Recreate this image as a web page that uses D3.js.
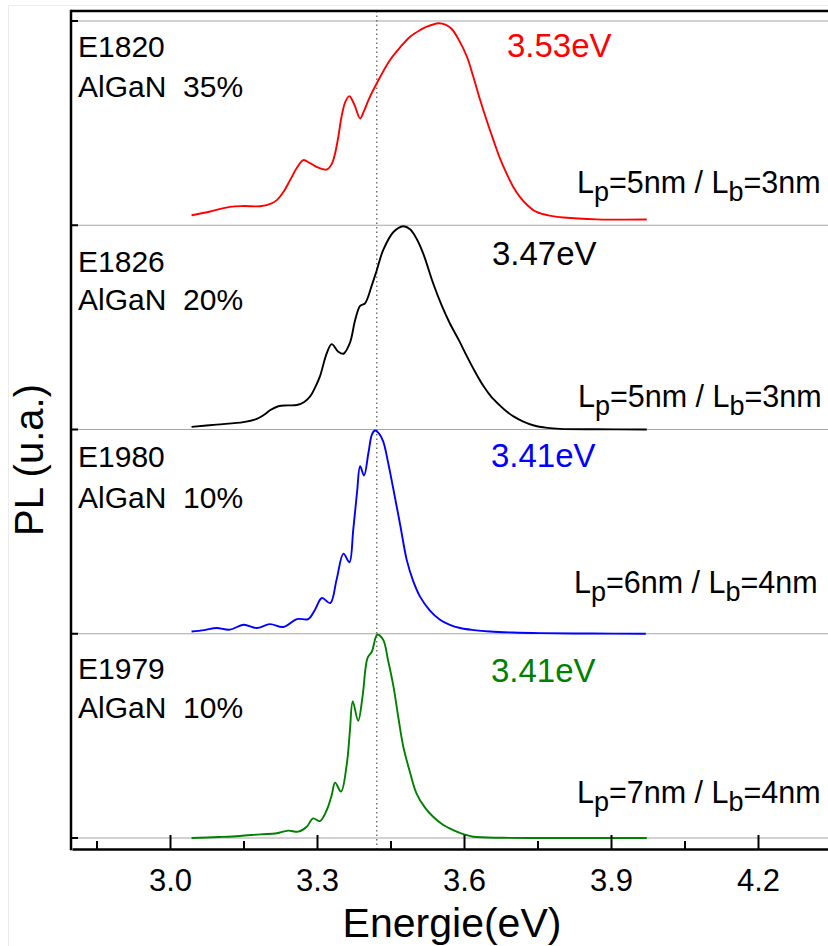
<!DOCTYPE html>
<html>
<head>
<meta charset="utf-8">
<script src="https://cdn.jsdelivr.net/npm/d3@7"></script>
<style>
  html, body { margin: 0; padding: 0; background: #fff; }
  svg { display: block; font-family: "Liberation Sans", Arial, sans-serif; }
</style>
</head>
<body>
<svg id="chart" width="828" height="946"></svg>
<script>
// ---------------- DATA ----------------
const sampleNames = ["E1820", "E1826", "E1980", "E1979"];
const alloyLabels = ["AlGaN  35%", "AlGaN  20%", "AlGaN  10%", "AlGaN  10%"];
const peakLabels = ["3.53eV", "3.47eV", "3.41eV", "3.41eV"];
const wellP = ["5nm", "5nm", "6nm", "7nm"];
const wellB = ["3nm", "3nm", "4nm", "4nm"];
const seriesColors = ["#ff0000", "#000000", "#0000ff", "#008000"];
const majorTicks = [3.0, 3.3, 3.6, 3.9, 4.2];
const minorTicks = [2.85, 3.15, 3.45, 3.75, 4.05, 4.35];
const refEnergy = 3.422;

// [energy eV, normalized PL]
const e1820 = [[3.044,0.049],[3.08,0.066],[3.122,0.090],[3.15,0.094],[3.184,0.093],[3.205,0.105],[3.218,0.123],[3.232,0.165],
  [3.245,0.221],[3.26,0.285],[3.272,0.319],[3.285,0.305],[3.299,0.286],[3.320,0.273],[3.330,0.300],[3.337,0.353],[3.344,0.44],
  [3.350,0.531],[3.358,0.605],[3.366,0.632],[3.372,0.612],[3.378,0.580],[3.388,0.523],[3.396,0.56],[3.405,0.613],[3.422,0.695],
  [3.449,0.809],[3.470,0.872],[3.490,0.923],[3.510,0.955],[3.524,0.972],[3.548,0.989],[3.562,0.982],[3.575,0.961],[3.590,0.905],
  [3.606,0.825],[3.619,0.727],[3.633,0.613],[3.646,0.515],[3.660,0.417],[3.673,0.33],[3.687,0.253],[3.700,0.19],[3.714,0.139],
  [3.730,0.097],[3.748,0.065],[3.775,0.047],[3.803,0.038],[3.871,0.029],[3.973,0.028]];
const e1826 = [[3.044,0.013],[3.095,0.024],[3.150,0.036],[3.177,0.052],[3.192,0.072],[3.204,0.094],[3.221,0.114],[3.240,0.118],
  [3.259,0.120],[3.274,0.135],[3.286,0.162],[3.296,0.205],[3.306,0.260],[3.320,0.374],[3.330,0.418],[3.343,0.382],[3.354,0.371],
  [3.367,0.423],[3.378,0.537],[3.388,0.605],[3.398,0.618],[3.412,0.707],[3.422,0.780],[3.435,0.878],[3.456,0.967],[3.476,0.995],
  [3.490,0.980],[3.503,0.935],[3.517,0.860],[3.537,0.716],[3.554,0.610],[3.571,0.520],[3.590,0.435],[3.606,0.358],[3.622,0.285],
  [3.639,0.215],[3.655,0.162],[3.673,0.118],[3.687,0.088],[3.701,0.064],[3.720,0.040],[3.741,0.021],[3.770,0.008],[3.796,0.003],
  [3.870,0.001],[3.973,0.000]];
const e1980 = [[3.044,0.011],[3.070,0.018],[3.095,0.028],[3.122,0.020],[3.150,0.044],[3.177,0.028],[3.204,0.047],[3.231,0.033],
  [3.259,0.072],[3.282,0.072],[3.296,0.118],[3.310,0.175],[3.327,0.150],[3.340,0.265],[3.354,0.392],[3.366,0.350],[3.374,0.510],
  [3.382,0.700],[3.388,0.820],[3.396,0.775],[3.405,0.886],[3.412,0.975],[3.418,0.995],[3.425,0.985],[3.435,0.942],[3.445,0.840],
  [3.456,0.706],[3.470,0.530],[3.483,0.363],[3.496,0.260],[3.510,0.183],[3.530,0.115],[3.551,0.069],[3.570,0.045],[3.592,0.028],
  [3.620,0.018],[3.653,0.011],[3.700,0.006],[3.755,0.003],[3.860,0.001],[3.971,0.000]];
const e1979 = [[3.044,0.000],[3.100,0.005],[3.143,0.010],[3.184,0.018],[3.218,0.023],[3.241,0.036],[3.262,0.031],[3.279,0.055],
  [3.292,0.096],[3.306,0.083],[3.320,0.137],[3.330,0.210],[3.337,0.271],[3.349,0.227],[3.361,0.366],[3.367,0.520],[3.373,0.668],
  [3.384,0.574],[3.393,0.693],[3.403,0.881],[3.412,0.913],[3.423,0.995],[3.435,0.971],[3.445,0.870],[3.456,0.742],[3.466,0.590],
  [3.476,0.448],[3.490,0.320],[3.503,0.219],[3.520,0.150],[3.537,0.104],[3.557,0.065],[3.578,0.039],[3.600,0.018],[3.619,0.006],
  [3.680,0.001],[3.755,0.000],[3.973,0.000]];
const seriesData = [e1820, e1826, e1980, e1979];

// ---------------- DRAW ----------------
const svg = d3.select("#chart");
const x = d3.scaleLinear().domain([2.8, 4.4]).range([72, 856]);
const panelY = d3.scaleLinear().domain([0, 4]).range([21, 838]);
const frameTop = 11, axisY = 849, axisX = 71;

// faint outer border
svg.append("path").attr("d", "M8.5,946 V5.5 H828").attr("fill", "none").attr("stroke", "#ececec").attr("stroke-width", 1);

// panel separator lines (grey)
svg.append("g").selectAll("line").data(d3.range(5)).join("line")
  .attr("x1", axisX).attr("x2", 828)
  .attr("y1", i => panelY(i)).attr("y2", i => panelY(i))
  .attr("stroke", "#a6a6a6").attr("stroke-width", 1.2);

// dotted reference line
svg.append("line")
  .attr("x1", x(refEnergy)).attr("x2", x(refEnergy))
  .attr("y1", frameTop).attr("y2", axisY)
  .attr("stroke", "#555").attr("stroke-width", 1.2).attr("stroke-dasharray", "1.5,3");

// curves
seriesData.forEach((data, i) => {
  const y = d3.scaleLinear().domain([0, 1]).range([panelY(i + 1), panelY(i)]);
  const line = d3.line().x(d => x(d[0])).y(d => y(d[1])).curve(d3.curveCatmullRom.alpha(0.5));
  svg.append("path").datum(data).attr("d", line)
    .attr("fill", "none").attr("stroke", seriesColors[i]).attr("stroke-width", 1.9)
    .attr("stroke-linejoin", "round");
});

// frame: top line, left axis
svg.append("line").attr("x1", axisX).attr("x2", 828).attr("y1", frameTop).attr("y2", frameTop)
  .attr("stroke", "#000").attr("stroke-width", 2.5);
svg.append("line").attr("x1", axisX).attr("x2", axisX).attr("y1", frameTop - 1.2).attr("y2", axisY + 1.2)
  .attr("stroke", "#000").attr("stroke-width", 2.5);
// left small ticks
svg.append("g").selectAll("line").data(d3.range(5)).join("line")
  .attr("x1", axisX).attr("x2", axisX + 7)
  .attr("y1", i => panelY(i)).attr("y2", i => panelY(i))
  .attr("stroke", "#000").attr("stroke-width", 2);

// bottom axis
const xAxis = d3.axisBottom(x).tickValues(majorTicks).tickSizeInner(-14).tickSizeOuter(0)
  .tickPadding(20).tickFormat(d3.format(".1f"));
const gx = svg.append("g").attr("transform", `translate(0,${axisY})`).call(xAxis);
gx.select(".domain").attr("stroke", "#000").attr("stroke-width", 2.5);
gx.selectAll(".tick line").attr("stroke", "#000").attr("stroke-width", 2);
gx.selectAll(".tick text").attr("fill", "#000").attr("font-size", 31).attr("font-family", "Liberation Sans, Arial, sans-serif");
const xMinor = d3.axisBottom(x).tickValues(minorTicks).tickSizeInner(-8).tickSizeOuter(0).tickFormat("");
const gm = svg.append("g").attr("transform", `translate(0,${axisY})`).call(xMinor);
gm.select(".domain").remove();
gm.selectAll(".tick line").attr("stroke", "#000").attr("stroke-width", 2);

// axis titles
svg.append("text").attr("x", 452).attr("y", 937).attr("text-anchor", "middle")
  .attr("font-size", 41).attr("fill", "#000").text("Energie(eV)");
svg.append("text").attr("transform", "translate(43,460) rotate(-90)").attr("text-anchor", "middle")
  .attr("font-size", 40).attr("fill", "#000").text("PL (u.a.)");

// panel annotations
const nameBase = [57, 272, 467, 679];
const alloyBase = [97, 310, 508, 718];
const peakPos = [[507, 57], [492, 265], [491, 467], [491, 682]];
const wellPos = [[577, 193], [578, 407], [574, 593], [577, 803]];

sampleNames.forEach((n, i) => {
  svg.append("text").attr("x", 78).attr("y", nameBase[i]).attr("font-size", 30).attr("fill", "#000").text(n);
  svg.append("text").attr("x", 78).attr("y", alloyBase[i]).attr("font-size", 30).attr("fill", "#000")
    .style("white-space", "pre").text(alloyLabels[i]);
  svg.append("text").attr("x", peakPos[i][0]).attr("y", peakPos[i][1]).attr("font-size", 33)
    .attr("fill", seriesColors[i]).text(peakLabels[i]);
  const t = svg.append("text").attr("x", wellPos[i][0]).attr("y", wellPos[i][1]).attr("font-size", 30.5)
    .attr("fill", "#000").style("white-space", "pre");
  t.append("tspan").text("L");
  t.append("tspan").attr("dy", 8).attr("font-size", 27).text("p");
  t.append("tspan").attr("dy", -8).text("=" + wellP[i] + " / L");
  t.append("tspan").attr("dy", 8).attr("font-size", 27).text("b");
  t.append("tspan").attr("dy", -8).text("=" + wellB[i]);
});
</script>
</body>
</html>
